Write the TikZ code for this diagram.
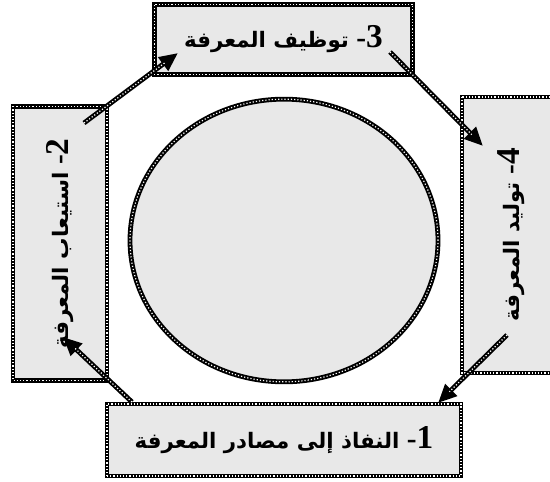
\documentclass[tikz,border=0pt]{standalone}
\usepackage{fontspec}
\usepackage{xcolor}
\usepackage{tikz}
\usetikzlibrary{shapes.geometric, arrows.meta, positioning, calc}
\TeXXeTstate=1
\newfontfamily\arabicfont[Script=Arabic]{DejaVu Sans}
\newfontfamily\numfont{Liberation Serif}
\definecolor{boxgray}{RGB}{232,232,232}
\newcommand{\stepnum}[1]{\hbox{\numfont\bfseries\fontsize{25}{26}\selectfont #1}\hbox{\numfont\bfseries\fontsize{22}{24}\selectfont -}}
\tikzstyle{stage} = [
    rectangle, draw=black, line width=3.6pt, fill=boxgray,
    font=\arabicfont\bfseries\fontsize{16}{19}\selectfont,
    postaction={draw=white, line width=0.9pt, dash pattern=on 0.9pt off 1.5pt}
]
\tikzstyle{arrow} = [-{Triangle[length=14pt, width=12pt]}, draw=black, line width=3.6pt,
    postaction={-, draw=white, line width=0.9pt, dash pattern=on 0.9pt off 1.5pt, shorten >=12pt}]

\begin{document}
\begin{tikzpicture}[x=0.75pt, y=-0.75pt]
        \useasboundingbox (0,0) rectangle (550,482);

        \node[stage, minimum width=265.5pt, minimum height=54pt] (access) at (284,440)
            {\beginR\stepnum{1}\ النفاذ إلى مصادر المعرفة\endR};
        \node[stage, rotate=90, minimum width=206pt, minimum height=70.5pt] (absorb) at (60,243.5)
            {\beginR\stepnum{2}\ استيعاب المعرفة\endR};
        \node[stage, minimum width=194pt, minimum height=53pt] (employ) at (283.5,39.5)
            {\beginR\stepnum{3}\ توظيف المعرفة\endR};
        \node[stage, rotate=90, minimum width=207pt, minimum height=84pt] (generate) at (518,235)
            {\raisebox{14pt}{\beginR\stepnum{4}\ توليد المعرفة\endR}};
        \node[stage, ellipse, minimum width=231pt, minimum height=212pt] (core) at (284,240.5) {};

        % Arrow ends
        \coordinate (from1) at (132,402);
        \coordinate (to2) at (63,337);
        \coordinate (from2) at (84,123);
        \coordinate (to3) at (178,53);
        \coordinate (from3) at (390,52);
        \coordinate (to4) at (483,146);
        \coordinate (from4) at (507,335);
        \coordinate (to1) at (438,403);

        \draw[arrow] (from1) -- (to2);
        \draw[arrow] (from2) -- (to3);
        \draw[arrow] (from3) -- (to4);
        \draw[arrow] (from4) -- (to1);
    \end{tikzpicture}
\end{document}
